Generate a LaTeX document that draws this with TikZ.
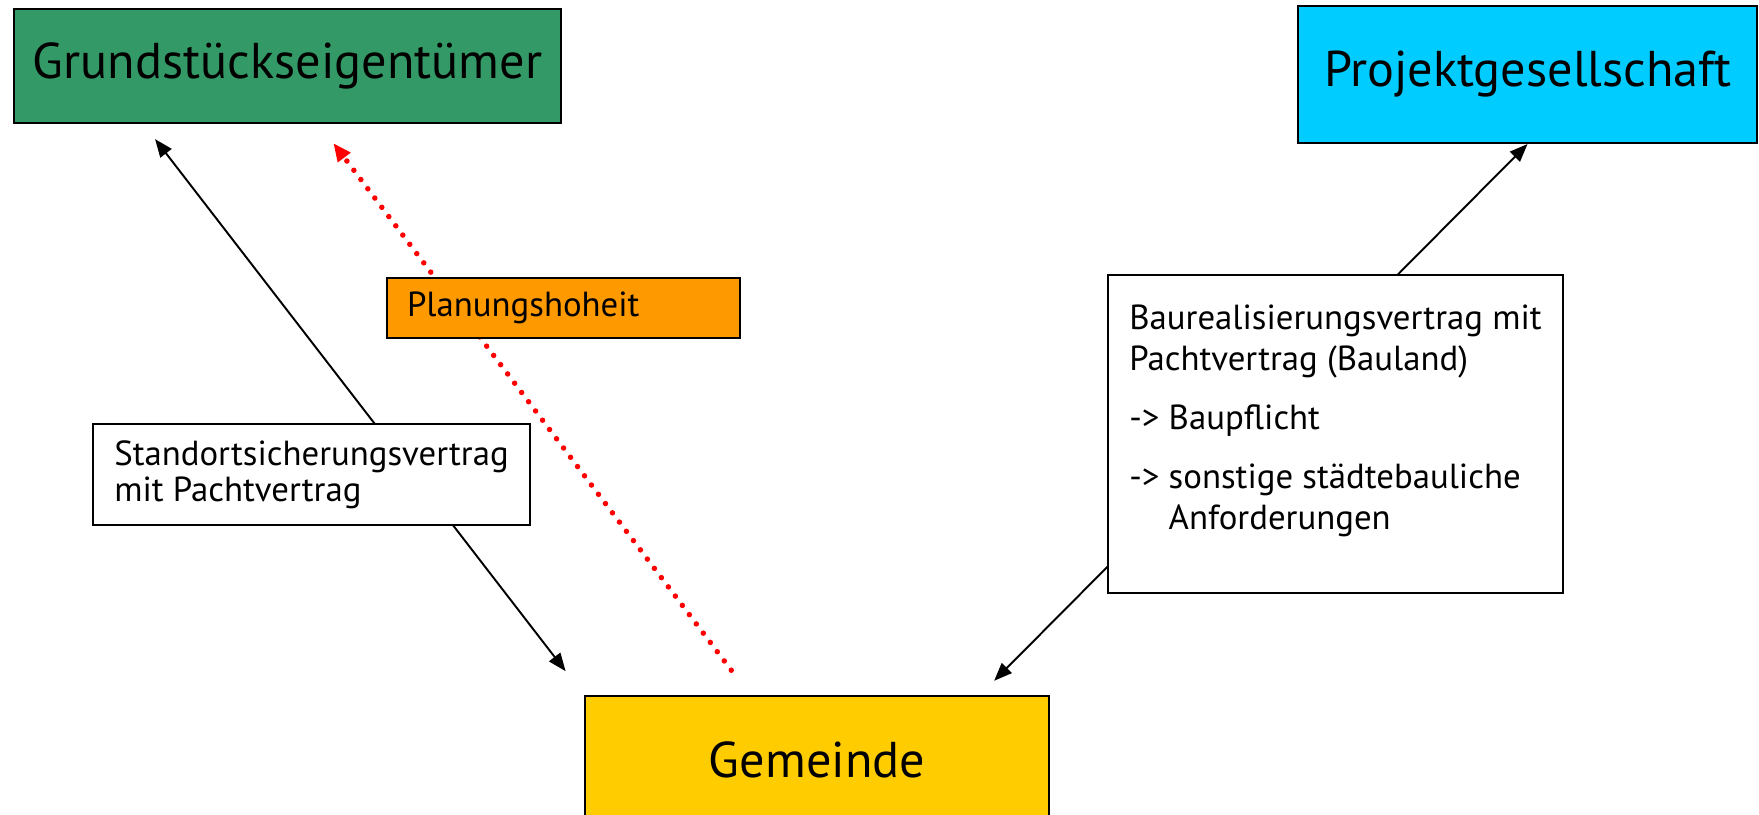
\documentclass[tikz,border=0pt]{standalone}
\usepackage{fontspec}
\setmainfont{PT Sans}
\usetikzlibrary{arrows.meta}
\pgfdeclarelayer{edgelayer}
\pgfdeclarelayer{nodelayer}
\pgfsetlayers{edgelayer,nodelayer,main}
\definecolor{partygreen}{HTML}{339966}
\definecolor{partycyan}{HTML}{00CCFF}
\definecolor{partyyellow}{HTML}{FFCC00}
\definecolor{hoheitorange}{HTML}{FF9900}
\tikzstyle{party}=[rectangle, draw=black, line width=0.6pt, font=\fontsize{14.3}{16}\selectfont]
\tikzstyle{contract}=[rectangle, draw=black, fill=white, line width=0.6pt, align=left, inner xsep=0.2cm, font=\fontsize{9.9}{11.7}\selectfont]
\tikzstyle{arrowedge}=[draw=black, line width=0.55pt, {Triangle[length=0.18cm,width=0.14cm]}-{Triangle[length=0.18cm,width=0.14cm]}]
\tikzstyle{dotedge}=[draw=red, line width=0.055cm, line cap=round, dash pattern=on 0pt off 0.116cm, -{Triangle[length=0.18cm,width=0.15cm]}]

\begin{document}
\begin{tikzpicture}
			\useasboundingbox (0, 0) rectangle (17.59, 8.15);
			\begin{pgfonlayer}{nodelayer}
			\node [style=party, fill=partygreen, minimum width=5.47cm, minimum height=1.14cm] (0) at (2.875, 7.49) {Grundstückseigentümer};
			\node [style=party, fill=partycyan, minimum width=4.59cm, minimum height=1.37cm] (1) at (15.275, 7.405) {Projektgesellschaft};
			\node [style=party, fill=partyyellow, minimum width=4.64cm, minimum height=1.28cm] (2) at (8.17, 0.55) {Gemeinde};
			\node [style=contract, fill=hoheitorange, text width=3.13cm, minimum height=0.6cm] (3) at (5.635, 5.07) {Planungshoheit};
			\node [style=contract, minimum width=4.37cm, minimum height=1.01cm, font=\fontsize{9.9}{10.3}\selectfont] (4) at (3.115, 3.405) {Standortsicherungsvertrag\\mit Pachtvertrag};
			\node [style=contract, minimum width=4.55cm, minimum height=3.18cm] (5) at (13.355, 3.81) {Baurealisierungsvertrag mit\\Pachtvertrag (Bauland)\\[0.18cm]->~Baupflicht\\[0.18cm]->~sonstige städtebauliche\\\hphantom{->~}Anforderungen\rule[-0.34cm]{0pt}{0.34cm}};
			\end{pgfonlayer}
			\begin{pgfonlayer}{edgelayer}
			\draw [style=arrowedge, shorten <=0.19cm, shorten >=0.30cm] ([xshift=1.305cm]0.south west) to (2.north west);
			\draw [style=dotedge, shorten <=0.31cm, shorten >=0.24cm] ([xshift=1.66cm]2.north west) to ([xshift=3.06cm]0.south west);
			\draw [style=arrowedge, shorten <=0.2cm] ([xshift=-0.70cm]2.north east) to (1.south);
			\end{pgfonlayer}
\end{tikzpicture}
\end{document}
